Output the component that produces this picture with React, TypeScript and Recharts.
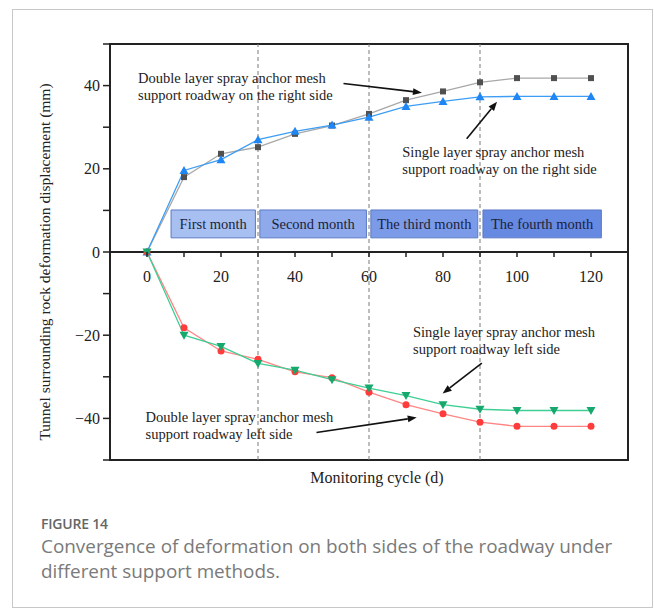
import React from 'react';
import {
  LineChart,
  Line,
  XAxis,
  YAxis,
  ReferenceLine,
  ReferenceArea,
  ReferenceDot,
  Label,
} from 'recharts';

// monitoring cycle (d)
const cycle = [0, 10, 20, 30, 40, 50, 60, 70, 80, 90, 100, 110, 120];

// deformation displacement (mm)
const doubleRight = [0, 18.0, 23.6, 25.2, 28.4, 30.4, 33.2, 36.5, 38.6, 40.8, 41.8, 41.8, 41.8];
const singleRight = [0, 19.6, 22.2, 27.0, 29.0, 30.5, 32.4, 35.0, 36.2, 37.3, 37.4, 37.4, 37.4];
const doubleLeft = [0, -18.2, -23.8, -25.8, -28.8, -30.2, -33.7, -36.7, -38.9, -40.9, -41.9, -41.9, -41.9];
const singleLeft = [0, -20.0, -22.7, -26.8, -28.4, -30.7, -32.7, -34.5, -36.7, -37.8, -38.1, -38.1, -38.1];

const xTicks = [0, 10, 20, 30, 40, 50, 60, 70, 80, 90, 100, 110, 120];
const yTicks = [-50, -40, -30, -20, -10, 0, 10, 20, 30, 40, 50];
const monthBounds = [30, 60, 90];

const months = [
  { name: 'First month', x1: 6.5, x2: 29.3, fill: '#a8bff1' },
  { name: 'Second month', x1: 30.5, x2: 59.3, fill: '#8eaaec' },
  { name: 'The third month', x1: 60.5, x2: 89.4, fill: '#7b9be9' },
  { name: 'The fourth month', x1: 90.8, x2: 122.8, fill: '#6689e2' },
];

const notes = [
  { x: -2.4, y: 40.6, lines: ['Double layer spray anchor mesh', 'support roadway on the right side'] },
  { x: 69.0, y: 22.8, lines: ['Single layer spray anchor mesh', 'support roadway on the right side'] },
  { x: 71.9, y: -20.4, lines: ['Single layer spray anchor mesh', 'support roadway left side'] },
  { x: -0.4, y: -40.9, lines: ['Double layer spray anchor mesh', 'support roadway left side'] },
];

const arrows = [
  { from: { x: 53.1, y: 40.5 }, to: { x: 74.3, y: 38.3 } },
  { from: { x: 86.4, y: 27.2 }, to: { x: 94.6, y: 36.1 } },
  { from: { x: 90.5, y: -26.7 }, to: { x: 79.9, y: -34.0 } },
  { from: { x: 45.8, y: -43.4 }, to: { x: 72.9, y: -39.8 } },
];

const data = cycle.map((d, i) => ({
  d,
  doubleRight: doubleRight[i],
  singleRight: singleRight[i],
  doubleLeft: doubleLeft[i],
  singleLeft: singleLeft[i],
}));

const SERIF = '"Liberation Serif", "Times New Roman", serif';
const W = 654;
const H = 614;
const PLOT_TOP = 44;
const PLOT_H = 416;
const ZERO_Y = PLOT_TOP + PLOT_H / 2;

const fmt = (v: number) => (v < 0 ? `\u2212${-v}` : `${v}`);

// x ticks sit on the zero line, not at the bottom of the frame
const XTick = (props: any) => {
  const { x, payload } = props;
  const v = payload.value;
  return (
    <g>
      <line x1={x} x2={x} y1={ZERO_Y} y2={ZERO_Y + 5} stroke="#222" strokeWidth={1.5} />
      {v % 20 === 0 && (
        <text x={x} y={ZERO_Y + 30} textAnchor="middle" fontFamily={SERIF} fontSize={16} fill="#222">
          {v}
        </text>
      )}
    </g>
  );
};

const YTick = (props: any) => {
  const { x, y, payload } = props;
  const v = payload.value;
  if (v % 20 !== 0 || Math.abs(v) === 50) return <g />;
  return (
    <text x={x} y={y} dy={5.5} textAnchor="end" fontFamily={SERIF} fontSize={16} fill="#222">
      {fmt(v)}
    </text>
  );
};

const Square = (props: any) => {
  const { cx, cy, index } = props;
  return <rect key={`s${index}`} x={cx - 3} y={cy - 3} width={6} height={6} fill="#505050" />;
};

const TriUp = (props: any) => {
  const { cx, cy, index } = props;
  return <polygon key={`u${index}`} points={`${cx},${cy - 4.5} ${cx - 4.5},${cy + 3.5} ${cx + 4.5},${cy + 3.5}`} fill="#1f86f5" />;
};

const TriDown = (props: any) => {
  const { cx, cy, index } = props;
  return <polygon key={`v${index}`} points={`${cx},${cy + 4.5} ${cx - 4.5},${cy - 3.5} ${cx + 4.5},${cy - 3.5}`} fill="#16a86c" />;
};

const Circle = (props: any) => {
  const { cx, cy, index } = props;
  return <circle key={`c${index}`} cx={cx} cy={cy} r={3.5} fill="#ff3b3b" />;
};

const Arrow = (props: any) => {
  const { x1, y1, x2, y2 } = props;
  const a = Math.atan2(y2 - y1, x2 - x1);
  const len = 9;
  const half = 3.5;
  const bx = x2 - len * Math.cos(a);
  const by = y2 - len * Math.sin(a);
  const px = -Math.sin(a) * half;
  const py = Math.cos(a) * half;
  return (
    <g>
      <line x1={x1} y1={y1} x2={bx} y2={by} stroke="#111" strokeWidth={1.6} />
      <polygon points={`${x2},${y2} ${bx + px},${by + py} ${bx - px},${by - py}`} fill="#111" />
    </g>
  );
};

const Note = (lines: string[]) => (props: any) => {
  const { cx, cy } = props;
  return (
    <text x={cx} y={cy} fontFamily={SERIF} fontSize={14.5} fill="#222">
      {lines.map((l, i) => (
        <tspan key={i} x={cx} dy={i === 0 ? 0 : 16.7}>
          {l}
        </tspan>
      ))}
    </text>
  );
};

export default function App() {
  return (
    <div style={{ position: 'absolute', left: 0, top: 0, width: W, height: H, background: '#fff' }}>
      <div
        style={{
          position: 'absolute',
          left: 12,
          top: 9,
          width: 639,
          height: 597,
          border: '1px solid #c8c8c8',
        }}
      />
      <div style={{ position: 'absolute', left: 0, top: 0 }}>
        <LineChart width={W} height={H} data={data} margin={{ top: PLOT_TOP, right: 26, bottom: 124, left: 50 }}>
          <XAxis
            dataKey="d"
            type="number"
            domain={[-10, 130]}
            ticks={xTicks}
            axisLine={false}
            tickLine={false}
            tickSize={0}
            height={30}
            tick={<XTick />}
            interval={0}
          >
            <Label
              value="Monitoring cycle (d)"
              position="insideTop"
              offset={12}
              dx={8}
              fontFamily={SERIF}
              fontSize={16}
              fill="#222"
            />
          </XAxis>
          <YAxis
            type="number"
            domain={[-50, 50]}
            ticks={yTicks}
            interval={0}
            width={60}
            axisLine={false}
            tickLine={{ stroke: '#222', strokeWidth: 1.5 }}
            tickSize={7}
            tickMargin={3}
            tick={<YTick />}
          >
            <Label
              content={() => (
                <text
                  transform="translate(44, 262) rotate(-90)"
                  textAnchor="middle"
                  dominantBaseline="central"
                  fontFamily={SERIF}
                  fontSize={15.5}
                  fill="#222"
                >
                  Tunnel surrounding rock deformation displacement (mm)
                </text>
              )}
            />
          </YAxis>

          {monthBounds.map((b) => (
            <ReferenceLine key={b} x={b} stroke="#7a7a7a" strokeWidth={1} strokeDasharray="4 3" />
          ))}

          {months.map((m) => (
            <ReferenceArea
              key={m.name}
              x1={m.x1}
              x2={m.x2}
              y1={3.4}
              y2={10.1}
              fill={m.fill}
              fillOpacity={1}
              stroke="#5b79c4"
              strokeWidth={1}
            >
              <Label value={m.name} position="center" fontFamily={SERIF} fontSize={14.5} fill="#1b1f3a" />
            </ReferenceArea>
          ))}

          <ReferenceLine y={0} stroke="#222" strokeWidth={2} />
          <ReferenceArea x1={-10} x2={130} y1={-50} y2={50} fill="none" stroke="#222" strokeWidth={2} />

          <Line dataKey="doubleRight" stroke="#a8a8a8" strokeWidth={1.3} dot={Square} isAnimationActive={false} />
          <Line dataKey="singleRight" stroke="#3d9df5" strokeWidth={1.3} dot={TriUp} isAnimationActive={false} />
          <Line dataKey="doubleLeft" stroke="#ff8585" strokeWidth={1.3} dot={Circle} isAnimationActive={false} />
          <Line dataKey="singleLeft" stroke="#3fcf95" strokeWidth={1.3} dot={TriDown} isAnimationActive={false} />

          {arrows.map((a, i) => (
            <ReferenceLine key={`a${i}`} segment={[a.from, a.to]} shape={Arrow} />
          ))}

          {notes.map((n, i) => (
            <ReferenceDot key={`n${i}`} x={n.x} y={n.y} r={0} shape={Note(n.lines)} />
          ))}
        </LineChart>
      </div>
      <div
        style={{
          position: 'absolute',
          left: 41,
          top: 514,
          fontFamily: '"Open Sans", "Noto Sans", sans-serif',
          color: '#666',
        }}
      >
        <div style={{ fontSize: 14, fontWeight: 600, lineHeight: '20px', letterSpacing: '-0.2px' }}>FIGURE 14</div>
        <div style={{ fontSize: 18.9, fontWeight: 400, lineHeight: '24.5px', color: '#7a7a7a', width: 610 }}>
          Convergence of deformation on both sides of the roadway under
          <br />
          different support methods.
        </div>
      </div>
    </div>
  );
}
